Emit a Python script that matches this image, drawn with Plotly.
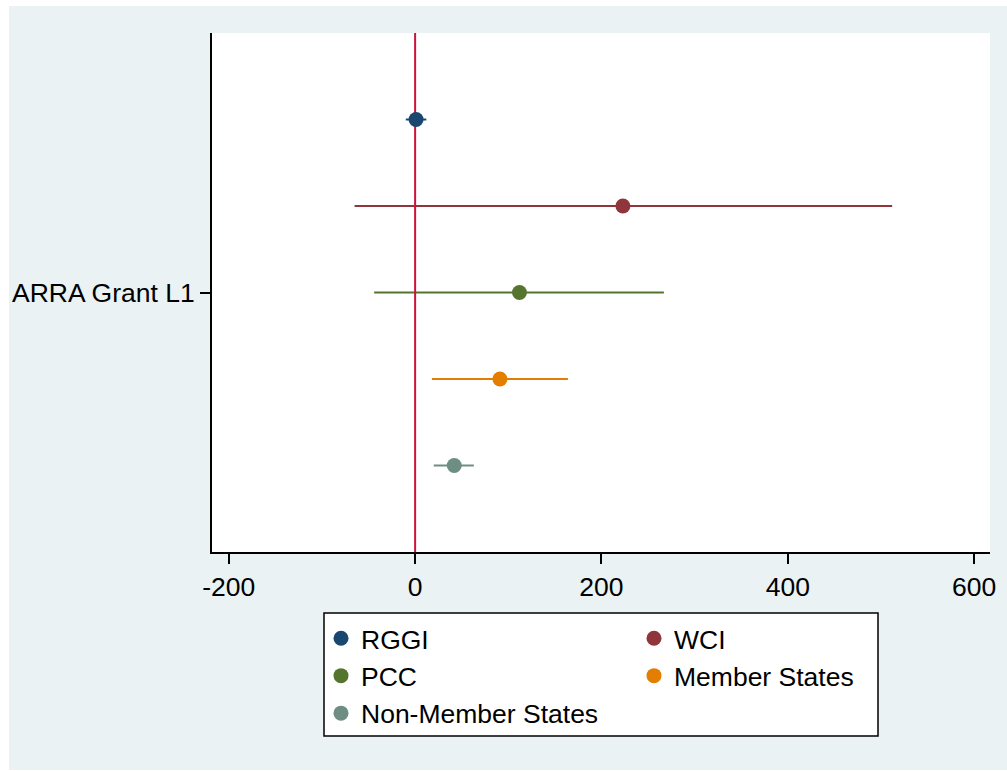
import plotly.graph_objects as go

# ---- data ----
series = ["RGGI", "WCI", "PCC", "Member States", "Non-Member States"]
estimates = [1, 223, 112, 91, 42]
ci_low = [-10, -65, -44, 18, 20]
ci_high = [12, 512, 267, 164, 63]
colors = ["#1A476F", "#90353B", "#55752F", "#E37E00", "#6E8E84"]
coef_label = "ARRA Grant L1"
x_ticks = [-200, 0, 200, 400, 600]
x_tick_labels = ["-200", "0", "200", "400", "600"]
ref_line = 0

W, H = 1007, 771
L, R, T, B = 212, 17, 33, 219
pw, ph = W - L - R, H - T - B
FONT = "Liberation Sans, Arial, sans-serif"


def px_x(px):
    return (px - L) / pw


def px_y(py):
    return (H - B - py) / ph


n = len(series)
offsets = [(n - 1) / 2 - i for i in range(n)]

fig = go.Figure()

# error bars (under reference line)
for i, s in enumerate(series):
    fig.add_trace(go.Scatter(
        x=[estimates[i]], y=[offsets[i]], mode="markers",
        marker=dict(size=15, color="rgba(0,0,0,0)"),
        error_x=dict(type="data", symmetric=False,
                     array=[ci_high[i] - estimates[i]],
                     arrayminus=[estimates[i] - ci_low[i]],
                     color=colors[i], thickness=2, width=0),
        showlegend=False, hoverinfo="skip"))

# reference line
fig.add_trace(go.Scatter(x=[ref_line, ref_line], y=[-3, 3], mode="lines",
                         line=dict(color="#D0103A", width=2),
                         showlegend=False, hoverinfo="skip"))

# point estimates
for i, s in enumerate(series):
    fig.add_trace(go.Scatter(
        x=[estimates[i]], y=[offsets[i]], mode="markers", name=s,
        marker=dict(size=15, color=colors[i])))

bg = "#EAF2F3"
fig.update_layout(
    width=W, height=H,
    margin=dict(l=L, r=R, t=T, b=B),
    paper_bgcolor=bg, plot_bgcolor="white",
    font=dict(family=FONT, size=26.5, color="black"),
    xaxis=dict(range=[-218, 617], tickvals=x_ticks, ticktext=x_tick_labels,
               showgrid=False, zeroline=False,
               showline=True, linecolor="black", linewidth=2,
               ticks="outside", ticklen=10, tickwidth=1.5, tickcolor="black"),
    yaxis=dict(range=[-3, 3], tickvals=[0], ticktext=[coef_label], showgrid=False,
               zeroline=False, showline=True, linecolor="black", linewidth=2,
               ticks="outside", ticklen=10, tickwidth=1.5, tickcolor="black"),
    legend=dict(orientation="h", x=px_x(321), y=px_y(614.5),
                xanchor="left", yanchor="top", bgcolor="rgba(0,0,0,0)",
                borderwidth=0, entrywidth=268,
                font=dict(family=FONT, size=26.5), traceorder="normal"),
    shapes=[
        dict(type="rect", xref="paper", yref="paper",
             x0=px_x(0), x1=px_x(9), y0=px_y(H), y1=px_y(0),
             fillcolor="white", line=dict(width=0), layer="below"),
        dict(type="rect", xref="paper", yref="paper",
             x0=px_x(0), x1=px_x(W), y0=px_y(6), y1=px_y(0),
             fillcolor="white", line=dict(width=0), layer="below"),
        dict(type="rect", xref="paper", yref="paper",
             x0=px_x(0), x1=px_x(W), y0=px_y(H), y1=px_y(H - 1),
             fillcolor="white", line=dict(width=0), layer="below"),
        # legend box
        dict(type="rect", xref="paper", yref="paper",
             x0=px_x(324), x1=px_x(878), y0=px_y(736), y1=px_y(613),
             fillcolor="white", line=dict(width=1.5, color="black"), layer="above"),
    ],
)

fig.write_html("out.html")
